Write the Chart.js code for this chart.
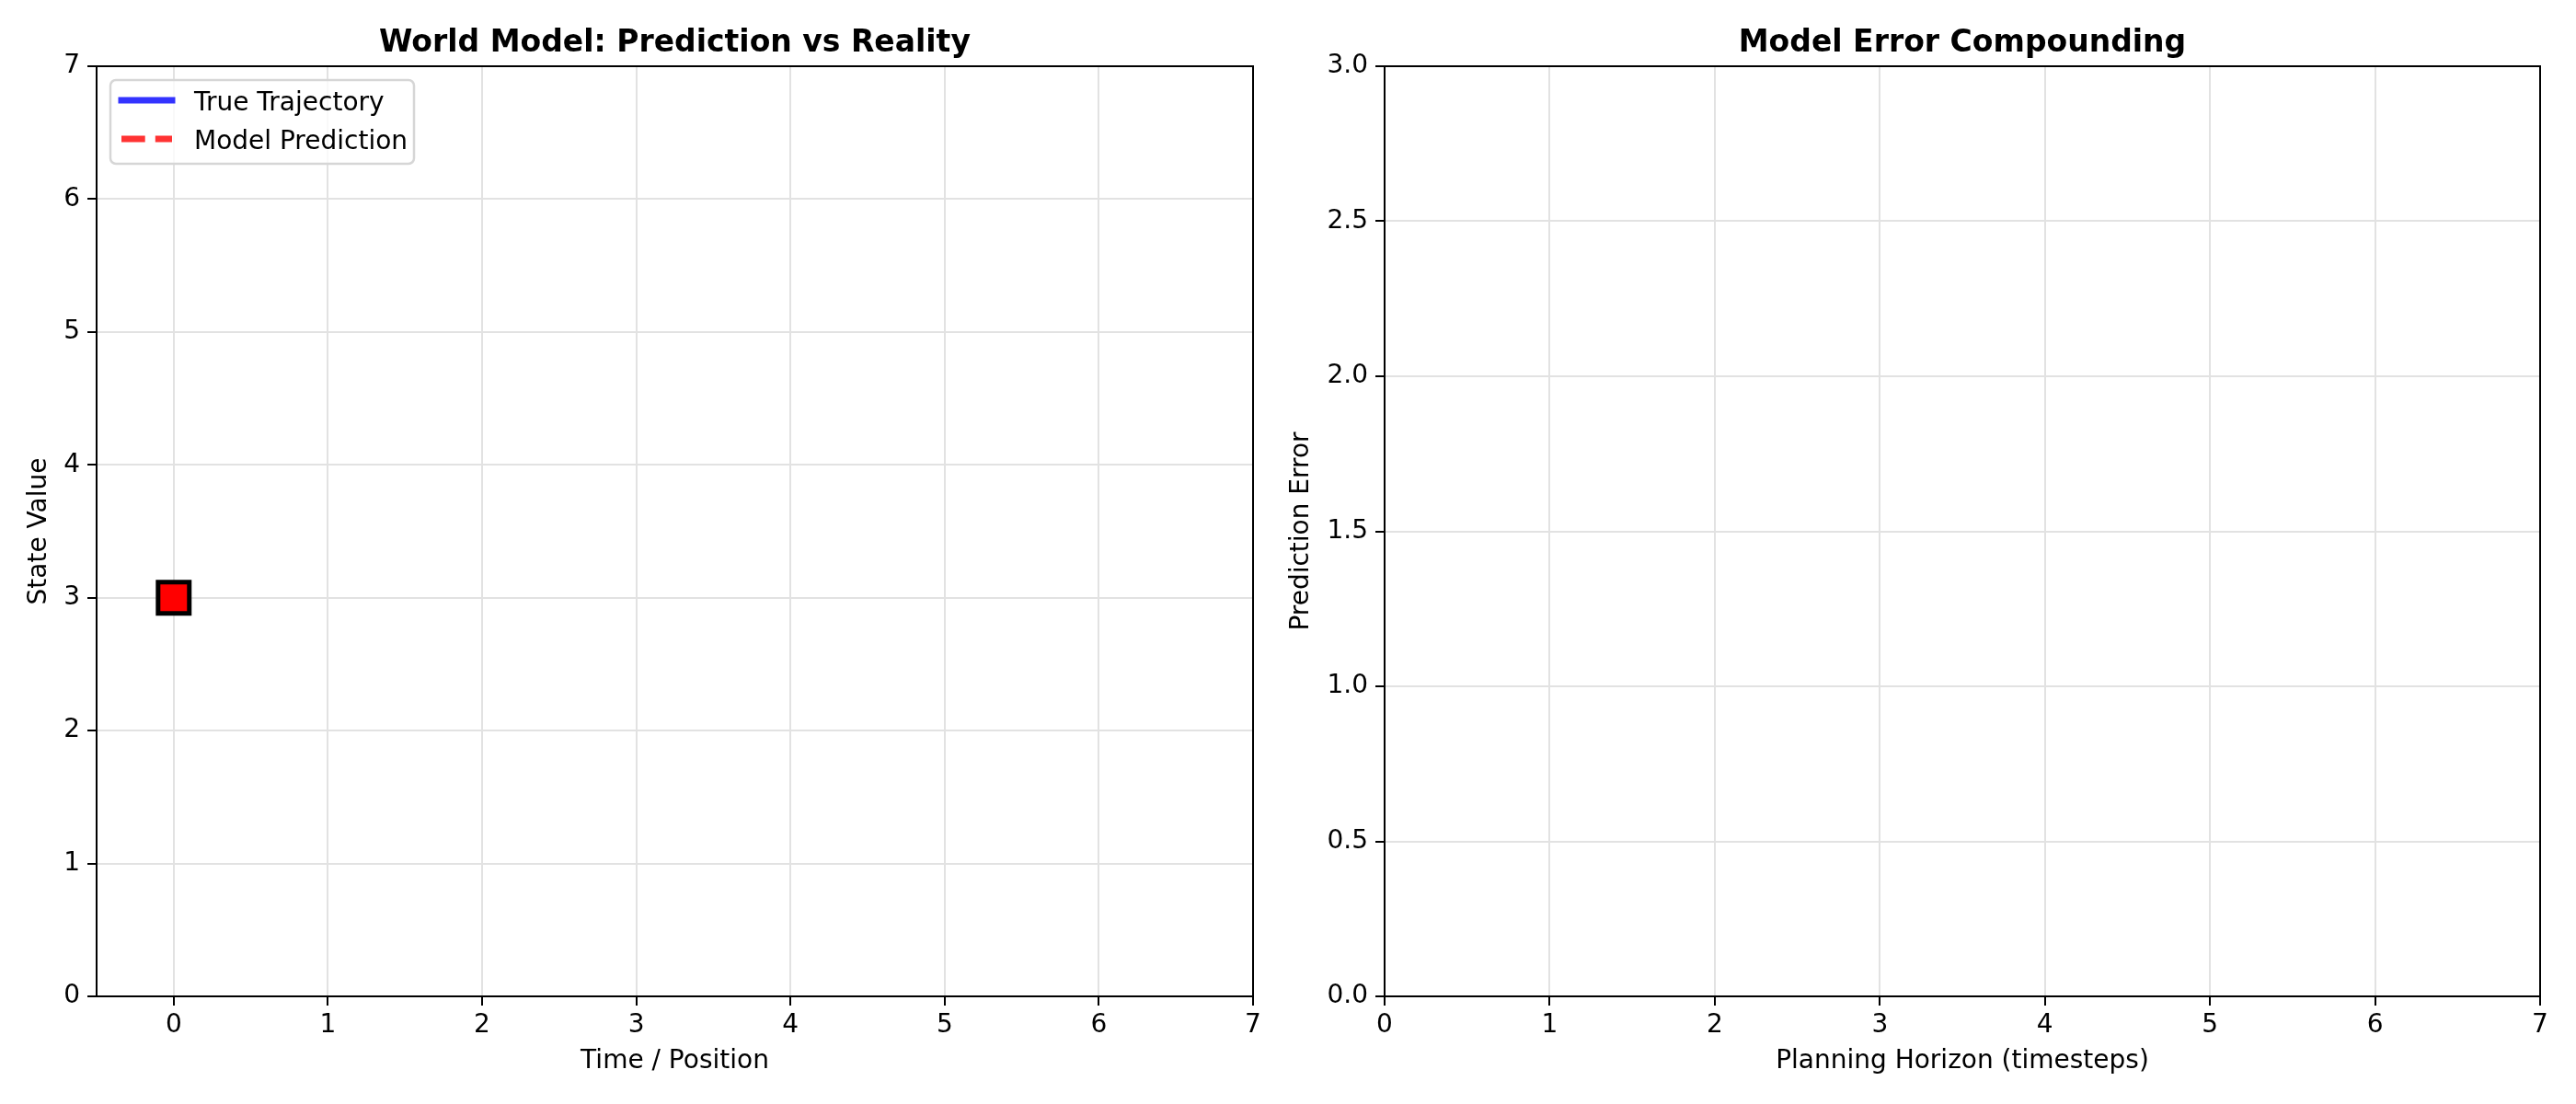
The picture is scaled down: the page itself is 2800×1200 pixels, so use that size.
<!DOCTYPE html>
<html>
<head>
<meta charset="utf-8">
<script src="https://cdn.jsdelivr.net/npm/chart.js@4.4.1/dist/chart.umd.min.js"></script>
<style>
  html, body { margin: 0; padding: 0; background: #fff; }
  #wrap { position: relative; width: 2800px; height: 1200px; background: #fff; }
  #left { position: absolute; left: 0; top: 0; }
  #right { position: absolute; left: 1370px; top: 0; }
</style>
</head>
<body>
<div id="wrap">
  <canvas id="left" width="1400" height="1200"></canvas>
  <canvas id="right" width="1430" height="1200"></canvas>
</div>
<script>
  // left panel
  const timeTicks = [0, 1, 2, 3, 4, 5, 6, 7];
  const stateTicks = [0, 1, 2, 3, 4, 5, 6, 7];
  const trueTrajectory = [];
  const modelPrediction = [];
  const agentX = [0];
  const agentY = [3];

  // right panel
  const horizonTicks = [0, 1, 2, 3, 4, 5, 6, 7];
  const errorTicks = [0, 0.5, 1.0, 1.5, 2.0, 2.5, 3.0];
  const errorValues = [];

  Chart.defaults.font.family = '"DejaVu Sans", sans-serif';
  Chart.defaults.font.size = 28;
  Chart.defaults.color = '#000';

  const FONT = '"DejaVu Sans", sans-serif';

  // frame, title and an in-axes legend like matplotlib
  const framePlugin = {
    id: 'frame',
    afterDraw(chart, args, opts) {
      const { ctx, chartArea: a } = chart;
      ctx.save();
      ctx.strokeStyle = '#000';
      ctx.lineWidth = 2;
      ctx.strokeRect(a.left, a.top, a.right - a.left, a.bottom - a.top);

      ctx.fillStyle = '#000';
      ctx.font = 'bold 33px ' + FONT;
      ctx.textAlign = 'center';
      ctx.textBaseline = 'alphabetic';
      ctx.fillText(opts.title, (a.left + a.right) / 2, 56);

      if (opts.legend) {
        const items = chart.data.datasets.filter((d) => d.label);
        const bx = a.left + 15, by = a.top + 15;
        const bw = 330, bh = 91;
        ctx.beginPath();
        ctx.roundRect(bx, by, bw, bh, 6);
        ctx.fillStyle = 'rgba(255,255,255,0.8)';
        ctx.fill();
        ctx.strokeStyle = '#d6d6d6';
        ctx.lineWidth = 2.5;
        ctx.stroke();
        items.forEach((d, i) => {
          const cy = by + 22 + i * 42;
          ctx.beginPath();
          ctx.strokeStyle = d.borderColor;
          ctx.lineWidth = d.borderWidth;
          ctx.setLineDash(d.borderDash || []);
          ctx.lineCap = d.borderDash ? 'butt' : 'square';
          ctx.moveTo(bx + 12, cy);
          ctx.lineTo(bx + 67, cy);
          ctx.stroke();
          ctx.setLineDash([]);
          ctx.fillStyle = '#000';
          ctx.font = '28px ' + FONT;
          ctx.textAlign = 'left';
          ctx.textBaseline = 'alphabetic';
          ctx.fillText(d.label, bx + 91, cy + 11);
        });
      }
      ctx.restore();
    }
  };

  const gridStyle = {
    color: '#e2e2e2',
    lineWidth: 2,
    tickColor: '#000',
    tickWidth: 2,
    tickLength: 10
  };

  function axes(xMin, xMax, xTicks, yMin, yMax, yTicks, xTitle, yTitle, yWidth, yTitlePad, yFmt) {
    return {
      x: {
        type: 'linear',
        min: xMin,
        max: xMax,
        afterBuildTicks: (s) => { s.ticks = xTicks.map((v) => ({ value: v })); },
        afterFit: (s) => { s.height = 117; },
        ticks: { padding: 5, maxRotation: 0, autoSkip: false },
        grid: gridStyle,
        border: { display: false },
        title: { display: true, text: xTitle, font: { size: 28 }, padding: { top: 0, bottom: 29 } }
      },
      y: {
        type: 'linear',
        min: yMin,
        max: yMax,
        afterBuildTicks: (s) => { s.ticks = yTicks.map((v) => ({ value: v })); },
        afterFit: (s) => { s.width = yWidth; },
        ticks: { padding: 8, autoSkip: false, callback: yFmt },
        grid: gridStyle,
        border: { display: false },
        title: { display: true, text: yTitle, font: { size: 28 }, padding: { top: yTitlePad, bottom: 0 } }
      }
    };
  }

  new Chart(document.getElementById('left'), {
    type: 'scatter',
    data: {
      datasets: [
        {
          label: 'True Trajectory',
          data: trueTrajectory,
          showLine: true,
          borderColor: 'rgba(0,0,255,0.8)',
          borderWidth: 7,
          pointRadius: 0
        },
        {
          label: 'Model Prediction',
          data: modelPrediction,
          showLine: true,
          borderColor: 'rgba(255,0,0,0.8)',
          borderWidth: 7,
          borderDash: [25.7, 11.1],
          pointRadius: 0
        },
        {
          data: agentX.map((x, i) => ({ x, y: agentY[i] })),
          pointStyle: 'rect',
          pointRadius: 24,
          pointBorderWidth: 5,
          backgroundColor: '#ff0000',
          borderColor: '#000'
        }
      ]
    },
    options: {
      responsive: false,
      animation: false,
      layout: { padding: { left: 0, right: 38, top: 72, bottom: 0 } },
      scales: axes(-0.5, 7, timeTicks, 0, 7, stateTicks, 'Time / Position', 'State Value', 105, 26, (v) => String(v)),
      plugins: {
        legend: { display: false },
        tooltip: { enabled: false },
        frame: { title: 'World Model: Prediction vs Reality', legend: true }
      }
    },
    plugins: [framePlugin]
  });

  new Chart(document.getElementById('right'), {
    type: 'scatter',
    data: {
      datasets: [
        {
          data: errorValues,
          showLine: true,
          borderColor: '#800080',
          borderWidth: 7,
          pointRadius: 0
        }
      ]
    },
    options: {
      responsive: false,
      animation: false,
      layout: { padding: { left: 0, right: 39, top: 72, bottom: 0 } },
      scales: axes(0, 7, horizonTicks, 0, 3, errorTicks, 'Planning Horizon (timesteps)', 'Prediction Error', 135, 27.5, (v) => Number(v).toFixed(1)),
      plugins: {
        legend: { display: false },
        tooltip: { enabled: false },
        frame: { title: 'Model Error Compounding', legend: false }
      }
    },
    plugins: [framePlugin]
  });
</script>
</body>
</html>
